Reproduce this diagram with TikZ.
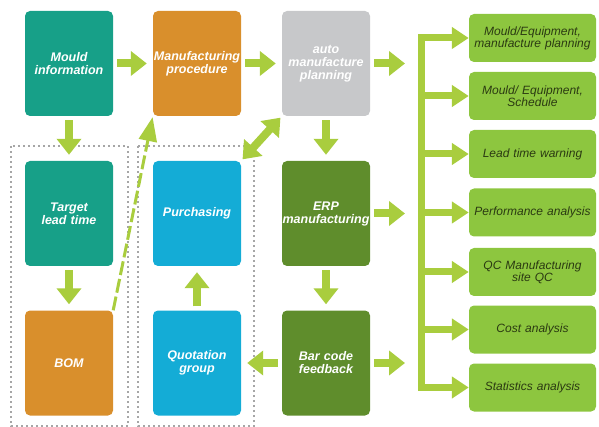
\documentclass[tikz,border=0pt]{standalone}
\usepackage{fontspec}
\setmainfont{Liberation Sans}
\usepackage{xcolor}
\usetikzlibrary{arrows.meta}

\definecolor{tealbox}{HTML}{17A088}
\definecolor{orangebox}{HTML}{D98F2C}
\definecolor{greybox}{HTML}{C7C8CA}
\definecolor{bluebox}{HTML}{14ACD6}
\definecolor{darkgreenbox}{HTML}{5F8D2C}
\definecolor{lightgreenbox}{HTML}{8DC63F}
\definecolor{arrowgreen}{HTML}{A9CD3E}
\definecolor{darktext}{HTML}{2B3A12}

\tikzset{
  bigbox/.style={rounded corners=5pt, minimum width=88pt, minimum height=105pt,
    text width=88pt, align=center, text=white, inner sep=0pt,
    font=\bfseries\itshape\fontsize{12.5}{13}\selectfont},
  listbox/.style={rounded corners=5pt, fill=lightgreenbox, minimum width=127pt,
    minimum height=48pt, text width=127pt, align=center, text=darktext, inner sep=0pt,
    font=\itshape\fontsize{12}{12}\selectfont},
  fatarrow/.style={draw=arrowgreen, line width=8pt,
    -{Triangle[width=24pt,length=16pt]}, shorten <=4pt, shorten >=6pt},
  thinarrow/.style={draw=arrowgreen, line width=7pt,
    -{Triangle[width=21pt,length=17pt]}},
  groupbox/.style={draw=gray!70, line width=1.5pt, dash pattern=on 2pt off 3pt}
}

\begin{document}
\begin{tikzpicture}[x=1pt,y=-1pt]
\useasboundingbox (0,0) rectangle (599,427);

% Groups
\draw[groupbox] (11,146) rectangle (128,426);
\draw[groupbox] (138,146) rectangle (254,426);

% First column
\node[bigbox, fill=tealbox] (mould) at (69,63.5) {Mould\\information};
\node[bigbox, fill=tealbox] (target) at (69,213.5) {Target\\lead time};
\node[bigbox, fill=orangebox] (bom) at (69,363) {BOM};

% Second column
\node[bigbox, fill=orangebox] (mproc) at (197,63.5) {Manufacturing\\procedure};
\node[bigbox, fill=bluebox] (purch) at (197,213.5) {Purchasing};
\node[bigbox, fill=bluebox] (quote) at (197,363) {Quotation\\group};

% Third column
\node[bigbox, fill=greybox] (auto) at (326,63.5) {auto\\manufacture\\planning};
\node[bigbox, fill=darkgreenbox] (erp) at (326,213.5) {ERP\\manufacturing};
\node[bigbox, fill=darkgreenbox] (barcode) at (326,363) {Bar code\\feedback};

% Results
\node[listbox] (plan) at (532.5,38) {Mould/Equipment,\\manufacture planning};
\node[listbox] (sched) at (532.5,96) {Mould/ Equipment,\\Schedule};
\node[listbox] (warn) at (532.5,154) {Lead time warning};
\node[listbox] (perf) at (532.5,212.5) {Performance analysis};
\node[listbox] (qc) at (532.5,272) {QC Manufacturing\\site QC};
\node[listbox] (cost) at (532.5,329.5) {Cost analysis};
\node[listbox] (stat) at (532.5,387.5) {Statistics analysis};

% Flow arrows
\draw[fatarrow] (mould) -- (mproc);
\draw[fatarrow] (mproc) -- (auto);
\draw[fatarrow] (mould) -- (target);
\draw[fatarrow] (target) -- (bom);
\draw[fatarrow] (auto) -- (erp);
\draw[fatarrow] (erp) -- (barcode);
\draw[fatarrow] (barcode) -- (quote);
\draw[fatarrow] (quote) -- (purch);
\draw[fatarrow, {Triangle[width=24pt,length=16pt]}-{Triangle[width=24pt,length=16pt]},
  shorten <=2pt, shorten >=2pt] (purch.north east) -- (auto.south west);
\draw[draw=arrowgreen, line width=3pt, dash pattern=on 14pt off 4pt,
  -{Triangle[width=18pt,length=24pt]}, shorten >=1pt] (bom.north east) -- (mproc.south west);

% Bar
\coordinate (bar) at (421,0);
\draw[arrowgreen, line width=7pt, line cap=rect] (plan -| bar) -- (stat -| bar);
\draw[fatarrow, shorten >=16pt] (auto) -- (auto -| bar);
\draw[fatarrow, shorten >=16pt] (erp) -- (erp -| bar);
\draw[fatarrow, shorten >=16pt] (barcode) -- (barcode -| bar);

% Branches
\draw[thinarrow] (plan -| bar) -- (plan.west);
\draw[thinarrow] (sched -| bar) -- (sched.west);
\draw[thinarrow] (warn -| bar) -- (warn.west);
\draw[thinarrow] (perf -| bar) -- (perf.west);
\draw[thinarrow] (qc -| bar) -- (qc.west);
\draw[thinarrow] (cost -| bar) -- (cost.west);
\draw[thinarrow] (stat -| bar) -- (stat.west);
\end{tikzpicture}
\end{document}
